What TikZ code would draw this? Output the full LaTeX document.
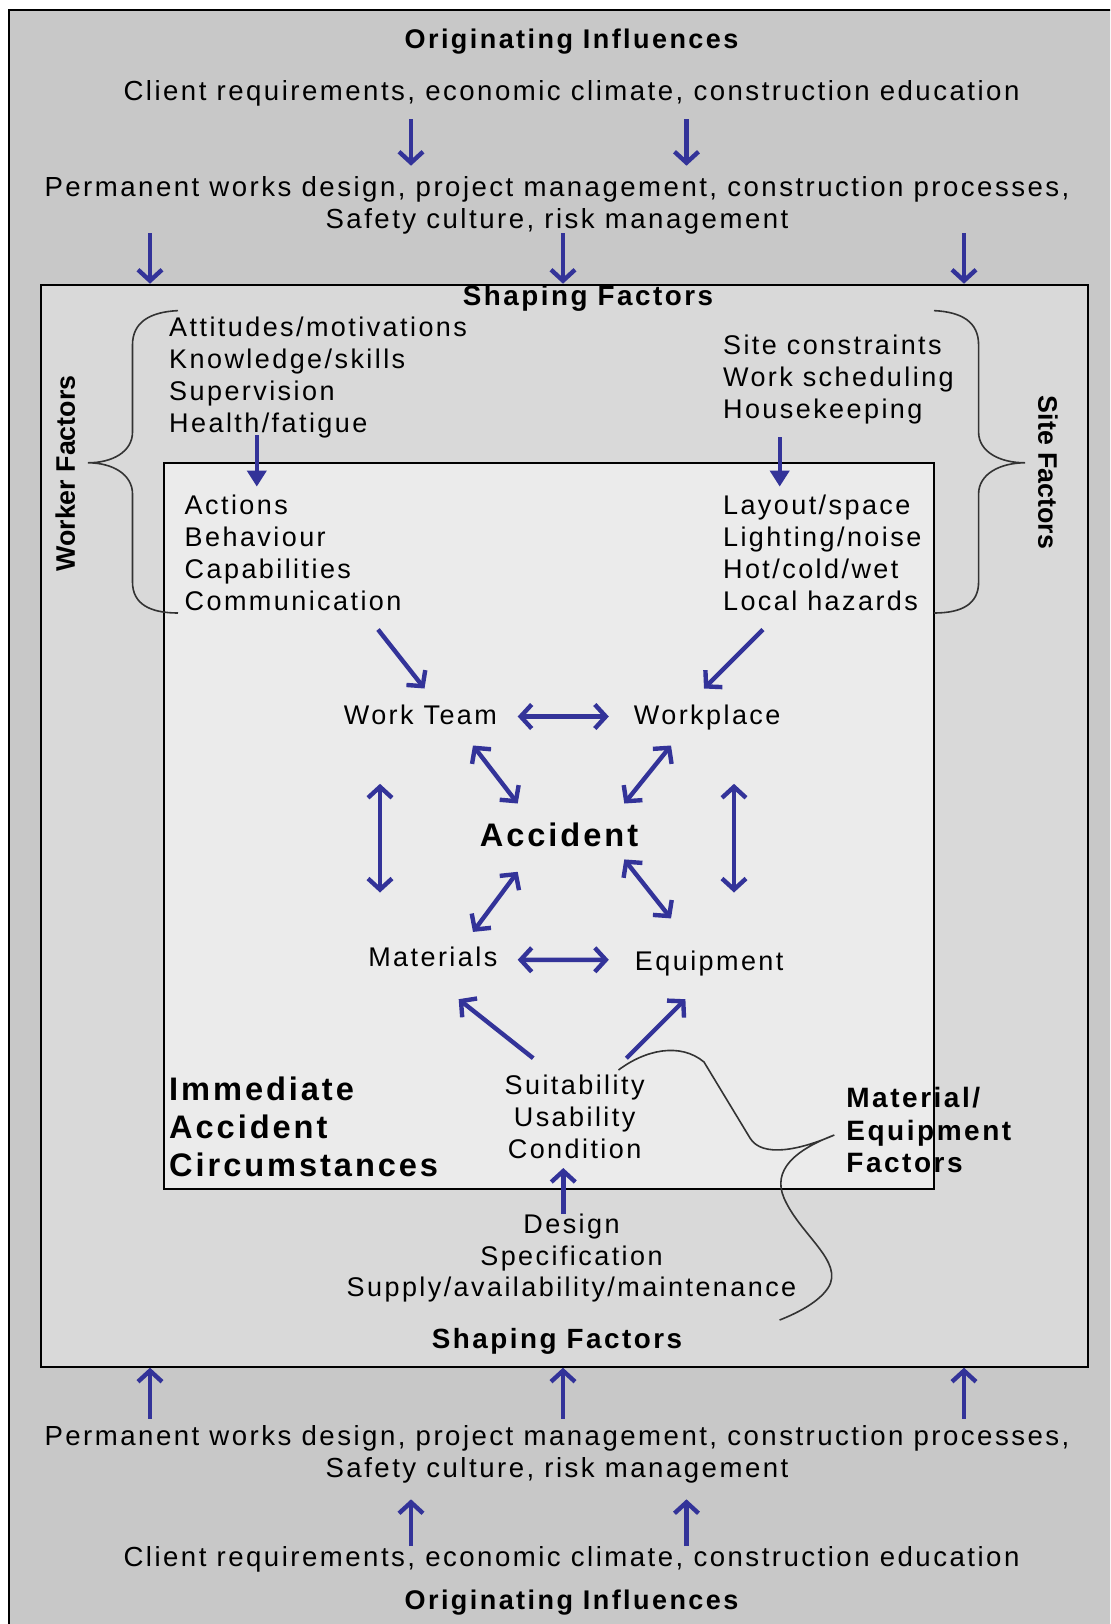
\documentclass[tikz,border=0pt]{standalone}
\usepackage{fontspec}
\setmainfont{Liberation Sans}
\newfontfamily\trk{Liberation Sans}[LetterSpace=9]
\usetikzlibrary{positioning,arrows.meta}

\definecolor{arrblue}{HTML}{333399}
\definecolor{outgray}{HTML}{C8C8C8}
\definecolor{midgray}{HTML}{D9D9D9}
\definecolor{ingray}{HTML}{EBEBEB}

\tikzset{
  lbl/.style={inner sep=0pt, align=left, font=\trk\fontsize{13.5}{16}\selectfont},
  lblc/.style={lbl, align=center},
  lblw/.style={inner sep=0pt, align=center, font=\trk\fontsize{13.8}{16}\selectfont},
  hdr/.style={inner sep=0pt, font=\trk\bfseries\fontsize{13.5}{16}\selectfont},
  shp/.style={inner sep=0pt, font=\trk\bfseries\fontsize{13.9}{16}\selectfont},
  side/.style={inner sep=0pt, font=\bfseries\fontsize{13.4}{16}\selectfont},
  big/.style={inner sep=0pt, align=left, font=\trk\bfseries\fontsize{16.3}{18.9}\selectfont},
  mat/.style={inner sep=0pt, align=left, font=\trk\bfseries\fontsize{14}{16.3}\selectfont},
  frame/.style={draw=black, line width=1pt},
  arr/.style={draw=arrblue, line width=2.2pt, -{Straight Barb[length=5.5pt,width=12pt]}},
  dbl/.style={arr, {Straight Barb[length=5.5pt,width=12pt]}-{Straight Barb[length=5.5pt,width=12pt]}},
  arrf/.style={draw=arrblue, line width=2.2pt, -{Triangle[length=8pt,width=9.5pt]}},
  brc/.style={draw=black!80, line width=0.8pt},
}

\begin{document}
\begin{tikzpicture}[x=0.5pt, y=-0.5pt]
  \useasboundingbox (0,0) rectangle (1110,1624);
  \begin{scope}
    \clip (0,0) rectangle (1110,1624);
    \draw[frame, fill=outgray] (9,9.5) rectangle (1130,1650);
  \end{scope}
  \node[frame, fill=midgray, minimum width=523.3pt, minimum height=541pt, inner sep=0pt] (midBox) at (564.7,825.7) {};
  \node[frame, fill=ingray, minimum width=385.2pt, minimum height=362.9pt, inner sep=0pt] (inBox) at (548.8,825.7) {};

  \node[hdr] (origTop) at (571.5,41.4) {Originating Influences};
  \node[lblw] (clientTop) at (571.5,93.2) {Client requirements, economic climate, construction education};
  \node[lblw] (permTop) at (557,205.5) {Permanent works design, project management, construction processes,\\Safety culture, risk management};
  \node[shp] (shapeTop) at (588,298) {Shaping Factors};

  \node[lbl, anchor=west] (workerList) at (168.8,377.4) {Attitudes/motivations\\Knowledge/skills\\Supervision\\Health/fatigue};
  \node[lbl, anchor=west] (siteList) at (722.7,379.4) {Site constraints\\Work scheduling\\Housekeeping};
  \node[side, rotate=90] (workerLbl) at (65.2,473.5) {Worker Factors};
  \node[side, rotate=-90] (siteLbl) at (1048,472.5) {Site Factors};
  \node[lbl, anchor=west] (actions) at (184.3,552.4) {Actions\\Behaviour\\Capabilities\\Communication};
  \node[lbl, anchor=west] (layout) at (722.7,552.4) {Layout/space\\Lighting/noise\\Hot/cold/wet\\Local hazards};

  \node[lbl] (team) at (420.4,714.4) {Work Team};
  \node[lbl] (place) at (707.2,717.5) {Workplace};
  \node[big] (accident) at (559,834.5) {Accident};
  \node[lbl] (materials) at (432.8,956.7) {Materials};
  \node[lbl] (equip) at (709.2,964) {Equipment};
  \node[lblc] (suit) at (574.6,1117.2) {Suitability\\Usability\\Condition};
  \node[big, anchor=west] (immediate) at (168.8,1127) {Immediate\\Accident\\Circumstances};
  \node[mat, anchor=west] (matLbl) at (846,1130) {Material/\\Equipment\\Factors};
  \node[lblc] (design) at (571.5,1258) {Design\\Specification\\Supply/availability/maintenance};
  \node[shp] (shapeBot) at (557,1341.5) {Shaping Factors};

  \node[lblw] (permBot) at (557,1454.2) {Permanent works design, project management, construction processes,\\Safety culture, risk management};
  \node[lblw] (clientBot) at (571.5,1559.3) {Client requirements, economic climate, construction education};
  \node[hdr] (origBot) at (571.5,1602.8) {Originating Influences};

  \draw[arr] ([shift={(-160.5,25.8)}]clientTop.center) -- ([shift={(-146,-39.8)}]permTop.center);
  \draw[arr] ([shift={(115,25.8)}]clientTop.center) -- ([shift={(129.5,-39.8)}]permTop.center);
  \foreach \x in {150,563,964}
    \draw[arr] ([shift={(\x-557,27.5)}]permTop.center) -- (midBox.north -| \x,0);

  \draw[brc] (178,310.6) .. controls (150,312) and (132.5,322) .. (132.5,345) -- (132.5,432)
    .. controls (132.5,452) and (112,462.8) .. (88,462.8)
    .. controls (112,462.8) and (132.5,474) .. (132.5,494) -- (132.5,582)
    .. controls (132.5,604) and (150,613) .. (178,613);
  \draw[brc] (934,310.6) .. controls (962,312) and (978.6,322) .. (978.6,345) -- (978.6,432)
    .. controls (978.6,452) and (1000,462.8) .. (1025,462.8)
    .. controls (1000,462.8) and (978.6,474) .. (978.6,494) -- (978.6,582)
    .. controls (978.6,604) and (962,613) .. (934,613);
  \draw[brc] (618.5,1070) .. controls (645,1050) and (680,1042) .. (704,1062) -- (750,1138)
    .. controls (762,1158) and (800,1150) .. (834.3,1135)
    .. controls (795,1150) and (772,1170) .. (784,1198)
    .. controls (800,1235) and (845,1262) .. (828,1288)
    .. controls (818,1303) and (795,1314) .. (779.6,1320);

  \draw[arrf] ([shift={(88,57.6)}]workerList.west) -- ([shift={(72.5,-65.8)}]actions.west);
  \draw[arrf] ([shift={(57,57.6)}]siteList.west) -- ([shift={(57,-65.8)}]layout.west);
  \draw[arr] ([shift={(193.7,77.1)}]actions.west) -- ([shift={(4.1,-25.9)}]team.center);
  \draw[arr] ([shift={(40.3,77.1)}]layout.west) -- ([shift={(-3.2,-29)}]place.center);

  \draw[dbl] ([shift={(97.3,2.1)}]team.center) -- ([shift={(-98.4,-1)}]place.center);
  \draw[dbl] ([shift={(52.6,31.1)}]team.center) -- ([shift={(-41.3,-31)}]accident.center);
  \draw[dbl] ([shift={(-36.2,28)}]place.center) -- ([shift={(65.3,-31)}]accident.center);
  \draw[dbl] ([shift={(-40.4,69.4)}]team.center) -- ([shift={(-52.8,-64.2)}]materials.center);
  \draw[dbl] ([shift={(26.8,66.3)}]place.center) -- ([shift={(24.8,-71.5)}]equip.center);
  \draw[dbl] ([shift={(-41.3,37.3)}]accident.center) -- ([shift={(40.2,-24.8)}]materials.center);
  \draw[dbl] ([shift={(65.3,24.9)}]accident.center) -- ([shift={(-38.2,-45.6)}]equip.center);
  \draw[dbl] ([shift={(84.9,3.1)}]materials.center) -- ([shift={(-100.4,-4.2)}]equip.center);

  \draw[arr] ([shift={(-41.4,-59)}]suit.center) -- ([shift={(25.9,42.5)}]materials.center);
  \draw[arr] ([shift={(51.8,-59)}]suit.center) -- ([shift={(-23.8,35.2)}]equip.center);
  \draw[arr] ([shift={(-8.2,-44.5)}]design.center) -- ([shift={(-11.3,50.8)}]suit.center);

  \foreach \x in {150,563,964}
    \draw[arr] ([shift={(\x-557,-35.7)}]permBot.center) -- (midBox.south -| \x,0);
  \draw[arr] ([shift={(-160.5,-13.3)}]clientBot.center) -- ([shift={(-146,45.1)}]permBot.center);
  \draw[arr] ([shift={(115,-13.3)}]clientBot.center) -- ([shift={(129.5,45.1)}]permBot.center);
\end{tikzpicture}
\end{document}
